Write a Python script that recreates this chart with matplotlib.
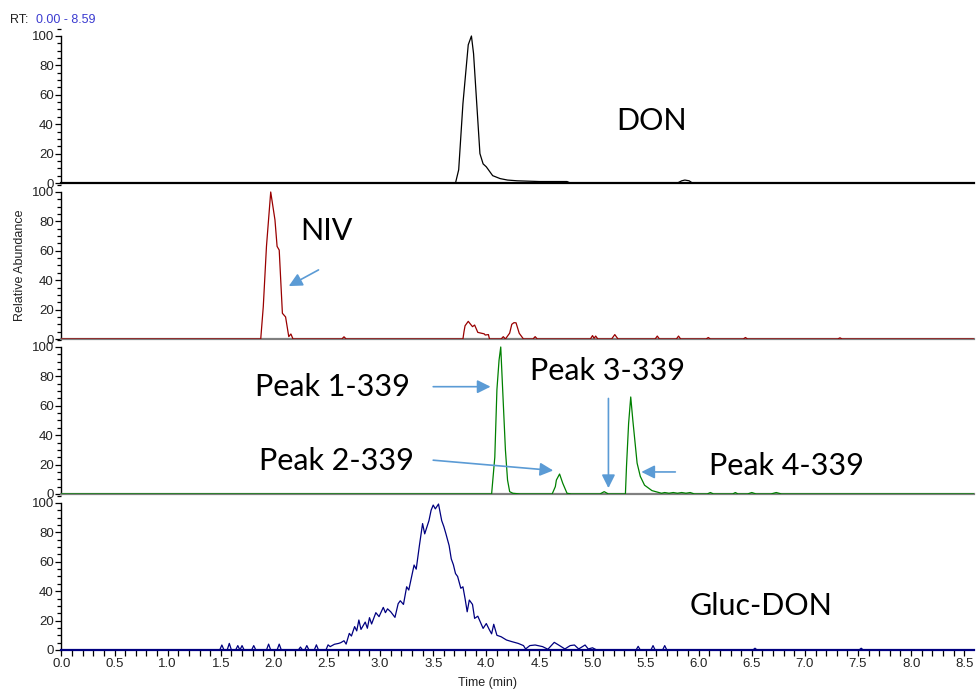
import matplotlib
matplotlib.use("Agg")
import matplotlib.pyplot as plt
from matplotlib.ticker import MultipleLocator

plt.rcParams['font.family'] = ['Liberation Sans', 'DejaVu Sans']

# retention time axis
rt_max = 8.59

# DON trace
don_t = [0, 3.71, 3.74, 3.78, 3.83, 3.86, 3.88, 3.91, 3.94, 3.97, 4.00, 4.06,
         4.13, 4.20, 4.29, 4.50, 4.76, 4.79, 5.80, 5.84, 5.87, 5.91, 5.94, rt_max]
don_y = [0, 0, 9, 54, 94, 100, 88, 54, 20, 13, 11, 5,
         3, 2, 1.5, 1, 1, 0, 0, 1.5, 2, 1.5, 0, 0]

# NIV trace
niv_t = [0, 1.876, 1.90, 1.93, 1.97, 2.01, 2.03, 2.05, 2.08, 2.11, 2.14, 2.16, 2.18,
         2.64, 2.66, 2.68,
         3.78, 3.79, 3.80, 3.83, 3.87, 3.89, 3.92, 3.98, 3.99, 4.02, 4.03,
         4.14, 4.16, 4.18, 4.22, 4.24, 4.26, 4.28, 4.31, 4.35,
         4.44, 4.46, 4.48, 4.98, 5.00, 5.015, 5.03, 5.05, 5.18, 5.21, 5.24,
         5.59, 5.61, 5.63, 5.79, 5.81, 5.83, 6.07, 6.09, 6.11, 6.42, 6.44, 6.46,
         7.31, 7.33, 7.35, rt_max]
niv_y = [0, 0, 22, 63, 100, 81, 63, 60.5, 17.5, 15, 1.6, 3.4, 0,
         0, 1.5, 0,
         0, 5, 9, 12, 8.4, 9.5, 4.5, 3.5, 2.7, 3, 0,
         0, 1.6, 0, 4, 10, 11.1, 11, 3.9, 0,
         0, 1.6, 0, 0, 2.3, 0.5, 2, 0, 0, 3, 0,
         0, 2, 0, 0, 2, 0, 0, 1, 0, 0, 1, 0,
         0, 0.8, 0, 0]

# m/z 339 trace (peaks 1-4)
p339_t = [0, 4.05, 4.08, 4.10, 4.12, 4.136, 4.15, 4.18, 4.20, 4.22, 4.25, 4.32,
          4.62, 4.65, 4.66, 4.69, 4.72, 4.76, 4.80,
          5.07, 5.11, 5.15,
          5.31, 5.32, 5.34, 5.36, 5.38, 5.42, 5.45, 5.49, 5.56, 5.65,
          5.68, 5.72, 5.76, 5.80, 5.84, 5.88, 5.92, 5.96,
          6.08, 6.11, 6.14, 6.32, 6.345, 6.37, 6.46, 6.50, 6.54, 6.68, 6.73, 6.78, rt_max]
p339_y = [0, 0, 25, 71, 91, 100, 77.5, 30, 9.5, 1.6, 0.5, 0,
          0, 5, 9.5, 13.6, 7.3, 0.5, 0,
          0, 1.6, 0,
          0, 18.6, 48, 66, 50, 21, 12, 6, 2.3, 0.5,
          1, 0.5, 1, 0.5, 1, 0.5, 1, 0,
          0, 1, 0, 0, 1, 0, 0, 1, 0, 0, 1, 0, 0]

# Gluc-DON trace
gluc_t = [0, 1.49, 1.51, 1.53, 1.56, 1.58, 1.60, 1.64, 1.66, 1.68, 1.70, 1.72,
          1.79, 1.81, 1.83, 1.93, 1.95, 1.97, 2.03, 2.05, 2.07, 2.23, 2.25, 2.27,
          2.29, 2.31, 2.33, 2.38, 2.40, 2.42, 2.49, 2.51,
          2.53, 2.57, 2.61, 2.63, 2.66, 2.68, 2.71, 2.73, 2.76, 2.78, 2.80, 2.82,
          2.86, 2.88, 2.90, 2.92, 2.96, 2.99, 3.03, 3.05, 3.07, 3.10, 3.14, 3.17,
          3.19, 3.22, 3.25, 3.27, 3.29, 3.32, 3.34, 3.37, 3.40, 3.42, 3.46, 3.48,
          3.50, 3.52, 3.55, 3.58, 3.60, 3.62, 3.65, 3.67, 3.69, 3.71, 3.73, 3.76,
          3.78, 3.80, 3.82, 3.84, 3.87, 3.89, 3.92, 3.95, 3.97, 4.00, 4.03, 4.05,
          4.07, 4.10, 4.14, 4.19, 4.24, 4.30, 4.35, 4.37, 4.41, 4.46, 4.53, 4.58,
          4.64, 4.69, 4.74, 4.79, 4.83, 4.87, 4.93, 4.96, 5.00, 5.04,
          5.41, 5.43, 5.45, 5.55, 5.57, 5.59, 5.66, 5.68, 5.70,
          6.51, 6.53, 6.55, 7.51, 7.53, 7.55, rt_max]
gluc_y = [0, 0, 3.4, 0, 0, 4.5, 0, 0, 3, 0, 3, 0,
          0, 3, 0, 0, 4, 0, 0, 4, 0, 0, 2, 0,
          0, 3, 0, 0, 3.5, 0, 0, 3.5,
          2.3, 3.9, 4.5, 5, 6.3, 4, 11.3, 9.5, 15.9, 13, 20.4, 14,
          19, 14.8, 22, 17.7, 25.4, 22.7, 29, 25.4, 28, 26, 22.2, 31.5,
          33.5, 31, 43, 40.8, 47.6, 57.8, 55, 71, 86, 79, 88, 95,
          98.6, 96, 99.3, 88, 84, 79, 71, 62, 58, 52, 50, 42,
          43, 35, 26, 34, 31, 21.5, 23, 18, 14.7, 18, 13.6, 11,
          17.5, 10, 9, 6.8, 5.7, 4.5, 3, 0.7, 3, 3.4, 2.3, 0.5,
          5.2, 3, 0.7, 3, 3.4, 0.7, 3.4, 0.7, 1.5, 0,
          0, 2.5, 0, 0, 3, 0, 0, 3, 0,
          0, 1.2, 0, 0, 1.2, 0, 0]

traces = [(don_t, don_y, '#000000', '#000000'),
          (niv_t, niv_y, '#990000', '#808080'),
          (p339_t, p339_y, '#008000', '#808080'),
          (gluc_t, gluc_y, '#000080', '#000080')]

fig = plt.figure(figsize=(9.76, 6.92), dpi=100)

left, width = 61.5 / 976, 8.59 * 106.2 / 976
height = 157 / 692
zero_px = [183, 339, 494, 650]
tick_col = '#222222'
axes = []
for i, (t, y, col, base) in enumerate(traces):
    ax = fig.add_axes([left, 1 - zero_px[i] / 692, width, height])
    ax.patch.set_alpha(0)
    ax.plot(t, y, color=col, lw=0.9, zorder=3)
    ax.set_xlim(0, rt_max)
    ax.set_ylim(0, 106.8)
    for s in ['top', 'right']:
        ax.spines[s].set_visible(False)
    ax.spines['left'].set_bounds(0, 100)
    ax.spines['left'].set_linewidth(1.0)
    ax.spines['bottom'].set_color(base)
    ax.spines['bottom'].set_linewidth(1.6)
    ax.yaxis.set_major_locator(MultipleLocator(20))
    ax.yaxis.set_minor_locator(MultipleLocator(5))
    ax.tick_params(axis='y', which='major', length=4.5, width=0.9, labelsize=9.5,
                   labelcolor=tick_col, pad=1)
    ax.tick_params(axis='y', which='minor', length=3, width=0.9)
    if i < 3:
        ax.tick_params(axis='x', which='both', bottom=False, labelbottom=False)
    else:
        ax.xaxis.set_major_locator(MultipleLocator(0.5))
        ax.xaxis.set_minor_locator(MultipleLocator(0.1))
        ax.xaxis.set_major_formatter(matplotlib.ticker.FormatStrFormatter('%.1f'))
        ax.tick_params(axis='x', which='both', length=4, width=0.9, color='black',
                       labelsize=9.5, labelcolor=tick_col, pad=2)
    axes.append(ax)

ax1, ax2, ax3, ax4 = axes

fig.text(10 / 976, 1 - 20 / 692, 'RT:', fontsize=9, color='#222222', va='center')
fig.text(36 / 976, 1 - 20 / 692, '0.00 - 8.59', fontsize=9, color='#3b3bd0', va='center')
fig.text(20 / 976, 1 - 265 / 692, 'Relative Abundance', rotation=90, fontsize=9,
         color=tick_col, ha='center', va='center')
fig.text(487 / 976, 1 - 683 / 692, 'Time (min)', fontsize=9, color=tick_col,
         ha='center', va='center')

lab = dict(fontsize=22, family=['Lato', 'DejaVu Sans'], color='black',
           ha='center', va='center')
arr = dict(arrowstyle='-|>', color='#5b9bd5', lw=1.2, mutation_scale=20,
           shrinkA=0, shrinkB=0)

ax1.text(5.56, 42, 'DON', **lab)
ax2.text(2.49, 73.5, 'NIV', **lab)
ax2.annotate('', xy=(2.14, 36), xytext=(2.42, 47), arrowprops=arr)
ax3.text(2.55, 73, 'Peak 1-339', **lab)
ax3.annotate('', xy=(4.04, 73), xytext=(3.50, 73), arrowprops=arr)
ax3.text(5.14, 84, 'Peak 3-339', **lab)
ax3.annotate('', xy=(5.15, 4), xytext=(5.15, 65), arrowprops=arr)
ax3.text(2.59, 22.5, 'Peak 2-339', **lab)
ax3.annotate('', xy=(4.63, 16), xytext=(3.50, 23), arrowprops=arr)
ax3.text(6.83, 19, 'Peak 4-339', **lab)
ax3.annotate('', xy=(5.46, 15), xytext=(5.78, 15), arrowprops=arr)
ax4.text(6.59, 30, 'Gluc-DON', **lab)

fig.savefig('out.png', dpi=100)
